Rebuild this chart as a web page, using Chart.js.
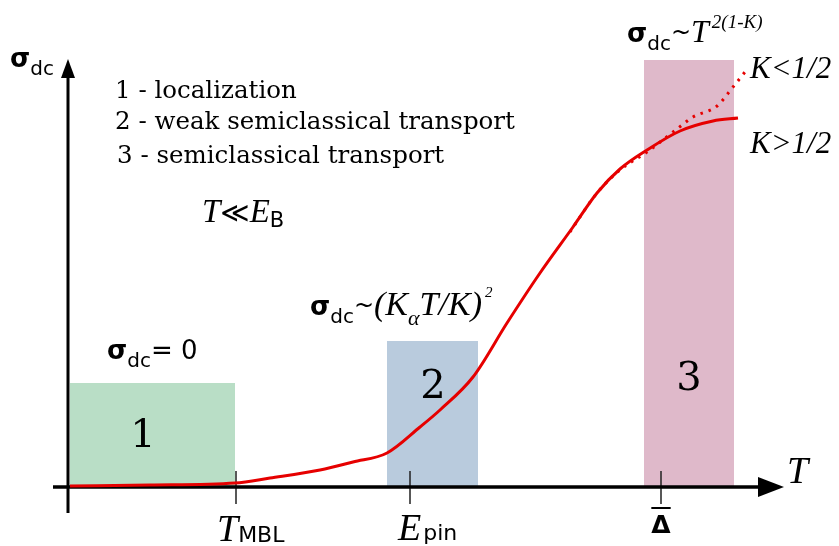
<!DOCTYPE html>
<html>
<head>
<meta charset="utf-8">
<script src="https://cdn.jsdelivr.net/npm/chart.js@4.4.1/dist/chart.umd.min.js"></script>
<style>
  html, body { margin: 0; padding: 0; background: #fff; }
  #wrap { width: 839px; height: 546px; position: relative; }
</style>
</head>
<body>
<div id="wrap"><canvas id="chart"></canvas></div>
<script>
// regimes: 1 localization, 2 weak semiclassical, 3 semiclassical
const regionStart  = [0.2, 31.9, 57.6];
const regionEnd    = [16.7, 41.0, 66.6];
const regionHeight = [10.4, 14.6, 42.7];
const regionColors = ['#b9dec6', '#b9cbdd', '#dfb9ca'];

// sigma_dc(T), K > 1/2 branch
const curveT     = [0.2, 8.2, 16.7, 20.2, 25.2, 28.5, 31.9, 35.2, 37.2, 40.5, 43.9, 47.2, 50.5, 52.9, 55.2, 57.9, 61.2, 64.5, 67.0];
const curveSigma = [0.1, 0.2, 0.4, 0.9, 1.7, 2.5, 3.4, 6.0, 7.7, 11.0, 16.4, 21.4, 26.0, 29.4, 31.8, 33.7, 35.6, 36.6, 36.9];
// K < 1/2 branch (dotted)
const dotT     = [50.2, 52.9, 55.2, 57.9, 60.9, 62.5, 64.9, 66.5, 67.7];
const dotSigma = [25.5, 29.4, 31.7, 33.5, 35.8, 37.0, 38.1, 40.0, 41.5];

// marked temperatures on T axis: T_MBL, E_pin, Delta
const tickT = [16.8, 34.2, 59.3];
const tickTop = 1.6, tickBottom = -1.7;

// axis extents
const axisXRange = [-1.5, 70];
const axisYRange = [-2.6, 41.5];

const toPts = (xs, ys) => xs.map((x, i) => ({ x, y: ys[i] }));

const datasets = [];
regionStart.forEach((s, i) => {
  datasets.push({
    order: 5,
    data: [{ x: s, y: regionHeight[i] }, { x: regionEnd[i], y: regionHeight[i] }],
    showLine: true, borderWidth: 0, pointRadius: 0,
    fill: 'origin', backgroundColor: regionColors[i], borderColor: 'rgba(0,0,0,0)'
  });
});
tickT.forEach(t => {
  datasets.push({
    order: 4,
    data: [{ x: t, y: tickTop }, { x: t, y: tickBottom }],
    showLine: true, borderWidth: 1.5, borderColor: '#222', pointRadius: 0
  });
});
datasets.push({
  order: 3,
  data: [{ x: axisXRange[0], y: 0 }, { x: axisXRange[1], y: 0 }],
  showLine: true, borderWidth: 3.5, borderColor: '#000', pointRadius: 0
});
datasets.push({
  order: 3,
  data: [{ x: 0, y: axisYRange[0] }, { x: 0, y: axisYRange[1] }],
  showLine: true, borderWidth: 3, borderColor: '#000', pointRadius: 0
});
datasets.push({
  order: 2,
  data: toPts(dotT, dotSigma),
  showLine: true, borderWidth: 3, borderColor: '#e60000', borderDash: [2.5, 6],
  pointRadius: 0, cubicInterpolationMode: 'monotone'
});
datasets.push({
  order: 1,
  data: toPts(curveT, curveSigma),
  showLine: true, borderWidth: 3, borderColor: '#e60000', pointRadius: 0,
  cubicInterpolationMode: 'monotone'
});

const SANS = '"DejaVu Sans"';
const SERIF = '"Liberation Serif"';
const sig = (size) => 'bold ' + size + 'px ' + SANS;
const sub = (size) => size + 'px ' + SANS;
const it = (size) => 'italic ' + size + 'px ' + SERIF;
const LEG = '24.5px "DejaVu Serif"';

// annotations in data coordinates; runs are [text, font, baseline shift px, gap before px]
const notes = [
  { x: -5.8, y: 42.0, runs: [['σ', sig(26), 0], ['dc', sub(20), 8]] },
  { x: 4.7, y: 38.9, runs: [['1 - localization', LEG, 0]] },
  { x: 4.7, y: 35.8, runs: [['2 - weak semiclassical transport', LEG, 0]] },
  { x: 4.9, y: 32.4, runs: [['3 - semiclassical transport', LEG, 0]] },
  { x: 13.4, y: 26.5, runs: [['T', it(33), 0], ['≪', '28px ' + SANS, 0], ['E', it(33), 0], ['B', sub(21), 5]] },
  { x: 3.9, y: 12.8, runs: [['σ', sig(26), 0], ['dc', sub(20), 8], ['= 0', '26px ' + SANS, 0]] },
  { x: 24.2, y: 17.2, runs: [['σ', sig(26), 0], ['dc', sub(20), 8], ['~', '24px ' + SANS, -2], ['(K', it(34), 0], ['α', it(22), 10], ['T/K)', it(34), 0], ['2', it(15), -18, 3]] },
  { x: 55.9, y: 44.5, runs: [['σ', sig(26), 0], ['dc', sub(20), 8], ['~', '24px ' + SANS, -2], ['T', it(32), 0], ['2(1-K)', it(19), -14, 3]] },
  { x: 68.2, y: 40.9, runs: [['K<1/2', it(31), 0]] },
  { x: 68.2, y: 33.4, runs: [['K>1/2', it(31), 0]] },
  { x: 7.5, y: 4.0, align: 'center', runs: [['1', '40px "DejaVu Serif"', 0]] },
  { x: 36.5, y: 8.9, align: 'center', runs: [['2', '40px "DejaVu Serif"', 0]] },
  { x: 62.1, y: 9.7, align: 'center', runs: [['3', '40px "DejaVu Serif"', 0]] },
  { x: 14.9, y: -5.4, runs: [['T', it(38), 0], ['MBL', sub(22), 1]] },
  { x: 33.0, y: -5.3, runs: [['E', it(38), 0], ['pin', sub(22), 0, 2]] },
  { x: 59.3, y: -4.6, align: 'center', bar: true, runs: [['Δ', 'bold 25px ' + SANS, 0]] },
  { x: 71.9, y: 0.4, runs: [['T', it(38), 0]] }
];

const decor = {
  id: 'decor',
  afterDatasetsDraw(chart) {
    const { ctx, scales: { x, y } } = chart;
    ctx.save();
    ctx.fillStyle = '#000';
    // arrow heads
    const xa = x.getPixelForValue(axisXRange[1]), ya = y.getPixelForValue(0);
    ctx.beginPath();
    ctx.moveTo(xa - 10, ya - 10); ctx.lineTo(xa + 16, ya); ctx.lineTo(xa - 10, ya + 10);
    ctx.closePath(); ctx.fill();
    const xb = x.getPixelForValue(0), yb = y.getPixelForValue(axisYRange[1]);
    ctx.beginPath();
    ctx.moveTo(xb - 7, yb + 6); ctx.lineTo(xb, yb - 13); ctx.lineTo(xb + 7, yb + 6);
    ctx.closePath(); ctx.fill();

    ctx.textBaseline = 'alphabetic';
    ctx.textAlign = 'left';
    notes.forEach(n => {
      let px = x.getPixelForValue(n.x);
      const py = y.getPixelForValue(n.y);
      let total = 0;
      n.runs.forEach(([t, f, dy, gap]) => { ctx.font = f; total += ctx.measureText(t).width + (gap || 0); });
      if (n.align === 'center') px -= total / 2;
      let cx = px;
      n.runs.forEach(([t, f, dy, gap]) => {
        ctx.font = f;
        cx += gap || 0;
        ctx.fillText(t, cx, py + dy);
        cx += ctx.measureText(t).width;
      });
      if (n.bar) ctx.fillRect(px, py - 26, total, 2);
    });
    ctx.restore();
  }
};

new Chart(document.getElementById('chart'), {
  type: 'scatter',
  data: { datasets },
  options: {
    responsive: true,
    maintainAspectRatio: false,
    animation: false,
    layout: { padding: 0 },
    plugins: { legend: { display: false }, tooltip: { enabled: false } },
    scales: {
      x: { type: 'linear', min: -6.8, max: 77.1, display: false },
      y: { type: 'linear', min: -5.9, max: 48.7, display: false }
    }
  },
  plugins: [decor]
});
</script>
</body>
</html>
